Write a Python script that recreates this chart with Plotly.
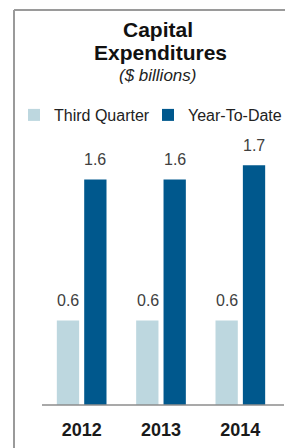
import plotly.graph_objects as go

years = ["2012", "2013", "2014"]
third_quarter = [0.6, 0.6, 0.6]
year_to_date = [1.6, 1.6, 1.7]
series_names = ["Third Quarter", "Year-To-Date"]
value_labels_q3 = ["0.6", "0.6", "0.6"]
value_labels_ytd = ["1.6", "1.6", "1.7"]

LIGHT = "#BDD7DF"
DARK = "#00588D"
FONT = "Liberation Sans, Arial, sans-serif"

# The page body adds an 8px offset; figure is sized to fit the 293x448 window.
W, H = 285, 440
OFF = 8

fig = go.Figure()
fig.add_trace(go.Bar(x=years, y=third_quarter, name=series_names[0], legend="legend",
                     marker=dict(color=LIGHT, line=dict(width=0)), hoverinfo="skip"))
fig.add_trace(go.Bar(x=years, y=year_to_date, name=series_names[1], legend="legend2",
                     marker=dict(color=DARK, line=dict(width=0)), hoverinfo="skip"))

annotations = []
for i, (v, t) in enumerate(zip(third_quarter, value_labels_q3)):
    annotations.append(dict(x=i, y=v, text=t, showarrow=False, xshift=-13.5, yshift=20,
                            yanchor="middle", font=dict(family=FONT, size=16, color="#404040")))
for i, (v, t) in enumerate(zip(year_to_date, value_labels_ytd)):
    annotations.append(dict(x=i, y=v, text=t, showarrow=False, xshift=13.5, yshift=20,
                            yanchor="middle", font=dict(family=FONT, size=16, color="#404040")))

# plot area in screen coords: x 42..280 px, y 130..405 px
def py(px):
    return (405 - px) / 275.0

def pxx(px):
    return (px - 42) / 238.0

annotations.append(dict(xref="paper", yref="paper", x=pxx(158), y=py(29), text="<b>Capital</b>",
                        showarrow=False, yanchor="middle",
                        font=dict(family=FONT, size=21, color="#111111")))
annotations.append(dict(xref="paper", yref="paper", x=pxx(160), y=py(53), text="<b>Expenditures</b>",
                        showarrow=False, yanchor="middle",
                        font=dict(family=FONT, size=21, color="#111111")))
annotations.append(dict(xref="paper", yref="paper", x=pxx(157), y=py(75), text="<i>($ billions)</i>",
                        showarrow=False, yanchor="middle",
                        font=dict(family=FONT, size=17, color="#222222")))

shapes = [
    dict(type="line", xref="paper", yref="paper", x0=pxx(14), x1=pxx(14), y0=py(10), y1=py(470),
         line=dict(color="#9a9a9a", width=2)),
    dict(type="line", xref="paper", yref="paper", x0=pxx(14), x1=pxx(310), y0=py(10), y1=py(10),
         line=dict(color="#9a9a9a", width=2)),
    dict(type="line", xref="paper", yref="paper", x0=pxx(42), x1=pxx(284), y0=0, y1=0,
         line=dict(color="#8c8c8c", width=1.5)),
]

legend_common = dict(orientation="h", xref="container", yref="container",
                     xanchor="left", yanchor="middle",
                     font=dict(family=FONT, size=16, color="#222222"),
                     bgcolor="rgba(0,0,0,0)", itemclick=False, itemdoubleclick=False)

fig.update_layout(
    width=W, height=H,
    margin=dict(l=42 - OFF, r=W - (280 - OFF), t=130 - OFF, b=H - (405 - OFF), autoexpand=False),
    paper_bgcolor="white", plot_bgcolor="white",
    barmode="group", bargap=0.31, bargroupgap=0.185,
    showlegend=True,
    legend=dict(x=(14 - OFF) / W, y=1 - (115 - OFF) / H, **legend_common),
    legend2=dict(x=(148 - OFF) / W, y=1 - (115 - OFF) / H, **legend_common),
    xaxis=dict(type="category", range=[-0.5, len(years) - 0.5], showgrid=False, showline=False,
               ticks="", zeroline=False,
               tickfont=dict(family=FONT, size=18, color="#1a1a1a", weight="bold"),
               ticklabelstandoff=12, fixedrange=True),
    yaxis=dict(visible=False, range=[0, 275 / 141], fixedrange=True),
    annotations=annotations,
    shapes=shapes,
)

fig.write_html("out.html")
